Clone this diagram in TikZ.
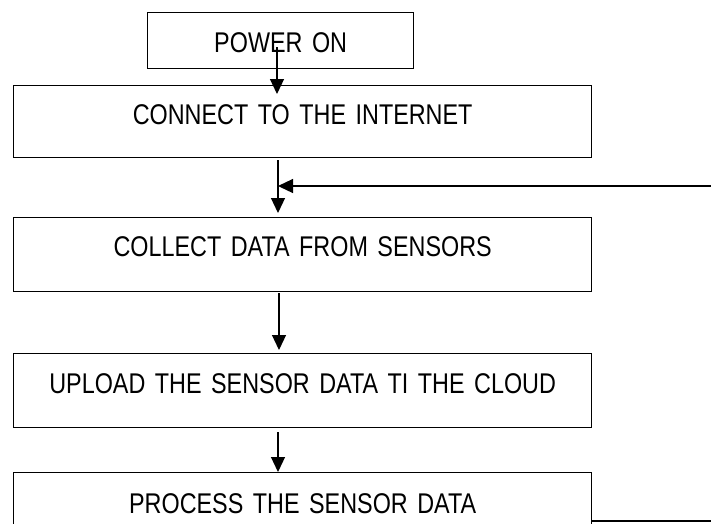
\documentclass[tikz,border=0pt]{standalone}
\usepackage{fontspec}
\setmainfont{Liberation Sans}[FakeStretch=0.82]
\usetikzlibrary{arrows.meta}
\begin{document}
\begin{tikzpicture}[x=1pt,y=-1pt,
  box/.style={draw, line width=1.3pt, inner sep=0pt, align=center, anchor=north west,
    font=\fontsize{28.5}{34}\selectfont},
  arr/.style={line width=1.2pt, -{Triangle[length=15pt,width=14pt]}}]
\useasboundingbox (0,0) rectangle (711,523);
\clip (0,0) rectangle (711,523);
\node[box, text width=266pt, text height=40pt, text depth=16pt] (power) at (147,12) {POWER ON};
\node[box, text width=578pt, text height=39pt, text depth=33pt] (connect) at (13,85) {CONNECT TO THE INTERNET};
\node[box, text width=578pt, text height=39pt, text depth=35pt] (collect) at (13,217) {COLLECT DATA FROM SENSORS};
\node[box, text width=578pt, text height=40pt, text depth=34pt] (upload) at (13,353) {UPLOAD THE SENSOR DATA TI THE CLOUD};
\node[box, text width=578pt, text height=41pt, text depth=30pt] (process) at (13,472) {PROCESS THE SENSOR DATA};
\coordinate (p1) at (277,47);
\coordinate (c1) at (278,160);
\coordinate (k1) at (279,293);
\coordinate (u1) at (278,432);
\coordinate (pr) at (591,521);
\coordinate (fr) at (740,521);
\coordinate (fj) at (278,186);
\path (p1 |- connect.north) ++(0,9) coordinate (p2);
\path (c1 |- collect.north) ++(0,-4) coordinate (c2);
\path (k1 |- upload.north) ++(0,-3) coordinate (k2);
\draw[arr] (p1) -- (p2);
\draw[arr] (c1) -- (c2);
\draw[arr] (k1) -- (k2);
\draw[arr] (u1) -- (u1 |- process.north);
\draw[arr] (pr) -- (fr) -- (fr |- fj) -- (fj);
\end{tikzpicture}
\end{document}
